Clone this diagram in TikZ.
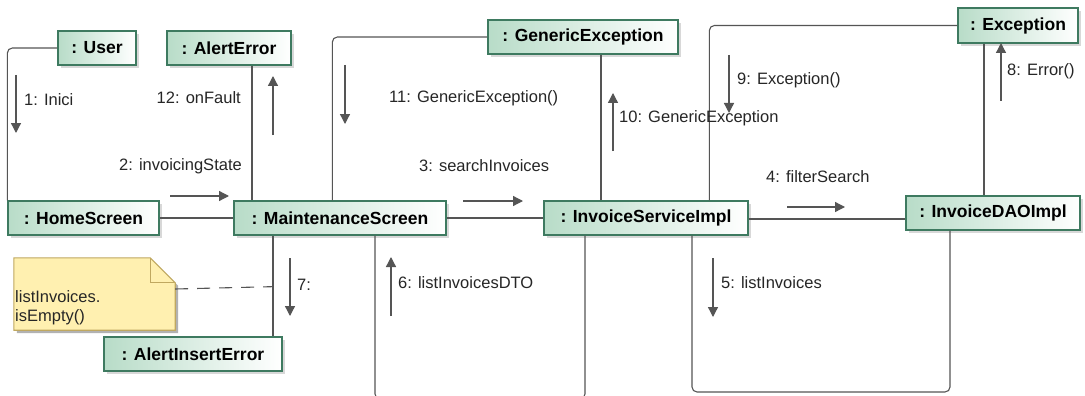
\documentclass[tikz,border=0pt]{standalone}
\usepackage{fontspec}
\setmainfont{Liberation Sans}
\usepackage{xcolor}
\usepackage{tikz}
\usetikzlibrary{positioning, calc, shadows, arrows.meta}
\definecolor{objgreen}{HTML}{B8DCC8}
\definecolor{objline}{HTML}{3E7A60}
\definecolor{notefill}{HTML}{FFF0B0}
\definecolor{noteline}{HTML}{C0A860}
\definecolor{linkgray}{HTML}{555555}
\tikzset{
	obj/.style={draw=objline, line width=1.3pt, left color=objgreen, right color=white,
		minimum height=34pt, inner sep=0pt, font=\fontsize{17.5}{19}\selectfont\bfseries,
		drop shadow={shadow xshift=3pt, shadow yshift=-3pt, fill=black!30}},
	link/.style={draw=linkgray, line width=1.1pt, rounded corners=5pt},
	msg/.style={draw=linkgray, line width=1.3pt, -{Triangle[length=10pt,width=10pt]}},
	lbl/.style={inner sep=0pt, font=\fontsize{16.5}{19}\selectfont, text=black!85}
}

\begin{document}
\begin{tikzpicture}[x=1pt, y=-1pt]
\clip (0,0) rectangle (1085,396);
\fill[white] (0,0) rectangle (1085,396);

% objects
\node[obj, minimum width=78pt] (user) at (97,48) {: User};
\node[obj, minimum width=124pt] (alerterror) at (229,48) {: AlertError};
\node[obj, minimum width=190pt] (genexc) at (583,37) {: GenericException};
\node[obj, minimum width=120pt, minimum height=35pt] (exc) at (1018,25.5) {: Exception};
\node[obj, minimum width=151pt] (home) at (83.5,218) {: HomeScreen};
\node[obj, minimum width=212pt] (maint) at (340,218) {: MaintenanceScreen};
\node[obj, minimum width=204pt] (service) at (646,218) {: InvoiceServiceImpl};
\node[obj, minimum width=174pt] (dao) at (993,213) {: InvoiceDAOImpl};
\node[obj, minimum width=178pt] (alertins) at (193,354) {: AlertInsertError};

% note
\node[minimum width=161pt, minimum height=72pt, inner sep=0pt] (note) at (94.5,294) {};
\fill[black!30] ([shift={(3pt,-3pt)}]note.north west) -- ([shift={(-22pt,-3pt)}]note.north east)
	-- ([shift={(3pt,-28pt)}]note.north east) -- ([shift={(3pt,-3pt)}]note.south east)
	-- ([shift={(3pt,-3pt)}]note.south west) -- cycle;
\draw[noteline, fill=notefill, line width=1.1pt] (note.north west) -- ([xshift=-25pt]note.north east)
	-- ([yshift=-25pt]note.north east) -- (note.south east) -- (note.south west) -- cycle;
\draw[noteline, line width=1.1pt] ([xshift=-25pt]note.north east) |- ([yshift=-25pt]note.north east);
\node[lbl, anchor=west, align=left] (notetext) at (15,308) {listInvoices.\\isEmpty()};

% links
\draw[link] (user.west) -| (home.north west);
\draw[link] ([xshift=23pt]alerterror.south) -- ([xshift=23pt]alerterror.south |- maint.north);
\draw[link] (genexc.west) -| ([xshift=99pt]maint.north west);
\draw[link] ([xshift=18pt]genexc.south) -- ([xshift=18pt]genexc.south |- service.north);
\draw[link] (exc.west) -| ([xshift=166pt]service.north west);
\draw[link] ([xshift=-34pt]exc.south) -- ([xshift=-34pt]exc.south |- dao.north);
\draw[link] (home.east) -- (maint.west);
\draw[link] (maint.east) -- (service.west);
\draw[link] ([yshift=-1pt]service.east) -- ([yshift=-1pt]service.east -| dao.west);
\draw[link] ([xshift=-67pt]maint.south) -- ([xshift=-67pt]maint.south |- alertins.north);
\coordinate (loopa) at ([xshift=35pt]maint.south);
\coordinate (loopb) at ([xshift=-61pt]service.south);
\coordinate (loopbot) at (0,399);
\draw[link] (loopa) |- (loopbot -| loopb) -- (loopb);
\coordinate (daoa) at ([xshift=46pt]service.south);
\coordinate (daob) at ([xshift=-43pt]dao.south);
\coordinate (daobot) at (0,392);
\draw[link] (daoa) |- (daobot -| daob) -- (daob);
\coordinate (noteend) at ($(maint.south)+(-67,51)$);
\draw[linkgray, line width=1.1pt, dash pattern=on 13pt off 9pt] ([yshift=5pt]note.east) -- (noteend);

% messages
\foreach \n/\p/\q in {m1/{16,75}/{16,133}, m12/{273,135}/{273,76}, m2/{170,196}/{229,196},
	m11/{345,65}/{345,124}, m10/{613,151}/{613,93}, m3/{463,201}/{523,201},
	m9/{729,55}/{729,113}, m8/{1001,101}/{1001,43}, m4/{787,207}/{845,207},
	m7/{290,258}/{290,316}, m6/{391,316}/{391,257}, m5/{713,258}/{713,317}} {
	\coordinate (\n s) at (\p);
	\coordinate (\n e) at (\q);
	\draw[msg] (\n s) -- (\n e);
}

% message labels
\node[lbl, anchor=west] (l1) at (24,100) {1: Inici};
\node[lbl, anchor=east] (l12) at (241,98) {12: onFault};
\node[lbl, anchor=east] (l2) at (242,166) {2: invoicingState};
\node[lbl, anchor=west] (l11) at (389,98) {11: GenericException()};
\node[lbl, anchor=west] (l10) at (619,118) {10: GenericException};
\node[lbl, anchor=west] (l3) at (419,166) {3: searchInvoices};
\node[lbl, anchor=west] (l9) at (737,80) {9: Exception()};
\node[lbl, anchor=west] (l8) at (1007,71) {8: Error()};
\node[lbl, anchor=west] (l4) at (766,177) {4: filterSearch};
\node[lbl, anchor=west] (l7) at (297,285) {7:};
\node[lbl, anchor=west] (l6) at (398,283) {6: listInvoicesDTO};
\node[lbl, anchor=west] (l5) at (721,283) {5: listInvoices};
\end{tikzpicture}
\end{document}
